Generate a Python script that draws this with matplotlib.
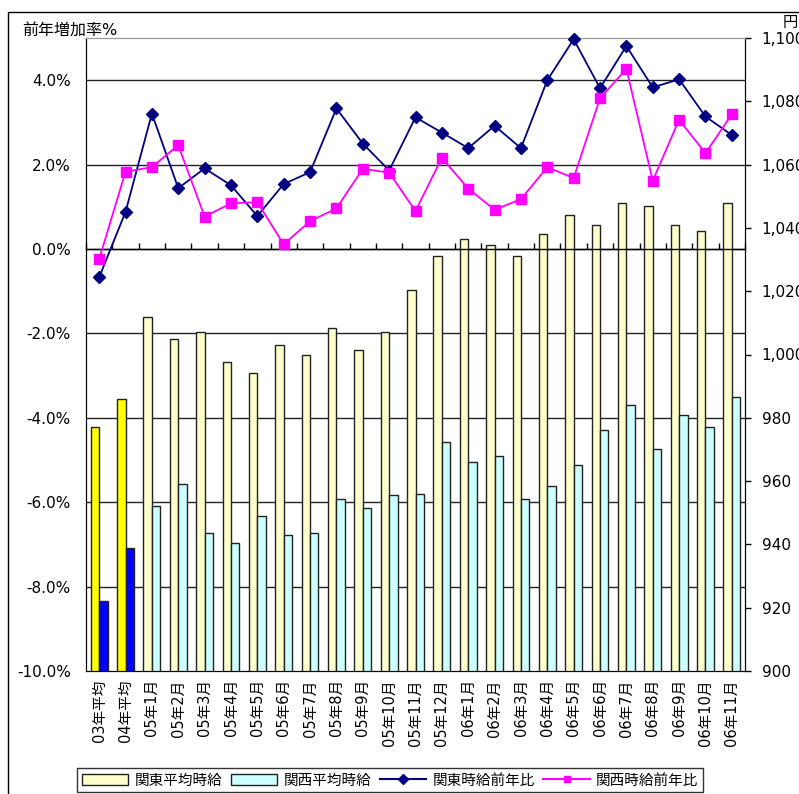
import numpy as np
import matplotlib
matplotlib.use("Agg")
import matplotlib.pyplot as plt
from matplotlib.patches import Patch, Rectangle
from matplotlib.lines import Line2D
from matplotlib.ticker import FuncFormatter

plt.rcParams['font.family'] = ['DejaVu Sans', 'Noto Sans CJK JP']

# categories
labels = ["03年平均", "04年平均"] + ["05年%d月" % m for m in range(1, 13)] + ["06年%d月" % m for m in range(1, 12)]

# average hourly wage (yen), right axis
kanto_wage = [977, 986, 1012, 1005, 1007, 997.5, 994, 1003, 1000, 1008.5, 1001.5, 1007,
              1020.5, 1031, 1036.5, 1034.5, 1031, 1038, 1044, 1041, 1048, 1047, 1041, 1039, 1048]
kansai_wage = [922, 939, 952, 959, 943.5, 940.5, 949, 943, 943.5, 954.5, 951.5, 955.5,
               956, 972.5, 966, 968, 954.5, 958.5, 965, 976, 984, 970, 981, 977, 986.5]

# year-on-year change (%), left axis
kanto_yoy = [-0.67, 0.88, 3.21, 1.44, 1.91, 1.51, 0.78, 1.54, 1.82, 3.33, 2.50, 1.86,
             3.12, 2.76, 2.39, 2.92, 2.39, 4.00, 4.97, 3.81, 4.81, 3.83, 4.02, 3.14, 2.70]
kansai_yoy = [-0.24, 1.83, 1.94, 2.46, 0.77, 1.08, 1.11, 0.11, 0.66, 0.96, 1.90, 1.81,
              0.90, 2.16, 1.43, 0.93, 1.18, 1.94, 1.68, 3.57, 4.27, 1.62, 3.06, 2.27, 3.19]

W, H = 799, 794
fig = plt.figure(figsize=(W / 100, H / 100), dpi=100)
fig.patches.append(Rectangle((8 / W, -0.1), 1.0, (H - 12) / H + 0.1, transform=fig.transFigure,
                             fill=False, ec="black", lw=1.0))

axb = fig.add_axes([86 / W, 1 - 671 / H, (745 - 86) / W, (671 - 38) / H])
x = np.arange(len(labels))
bw = 0.32
c1 = ["#FFFF00", "#FFFF00"] + ["#FFFFCC"] * (len(labels) - 2)
c2 = ["#0000FF", "#0000FF"] + ["#CCFFFF"] * (len(labels) - 2)

ylo, yhi = -10, 5
wlo, whi = 900, 1100
# gridlines following the percent axis, drawn behind the bars
pct_ticks = np.arange(-10, 5, 2)
grid_w = wlo + (pct_ticks - ylo) / (yhi - ylo) * (whi - wlo)
for g in grid_w[1:]:
    axb.axhline(g, color="#222222", lw=1.0, zorder=0)

axb.bar(x - bw / 2, kanto_wage, bw, color=c1, edgecolor="#222222", lw=1.0, zorder=2)
axb.bar(x + bw / 2, kansai_wage, bw, color=c2, edgecolor="#222222", lw=1.0, zorder=2)
axb.set_xlim(-0.5, len(labels) - 0.5)
axb.set_ylim(wlo, whi)
axb.set_xticks(x)
axb.set_xticklabels(labels, rotation=90, fontsize=10.5, va="top")
axb.tick_params(axis="x", length=0, pad=6)
axb.spines["top"].set_color("#999999")

axl = axb.twinx()
axl.yaxis.tick_left()
axl.yaxis.set_label_position("left")
axb.yaxis.tick_right()
axb.yaxis.set_label_position("right")
axb.set_yticks(np.arange(900, 1101, 20))
axb.yaxis.set_major_formatter(FuncFormatter(lambda v, p: "{:,.0f}".format(v)))
axb.tick_params(axis="y", direction="out", length=4, width=1, labelsize=11, pad=8)

axl.plot(x, kanto_yoy, color="#000080", lw=1.3, marker="D", ms=6.5, zorder=3, clip_on=False)
axl.plot(x, kansai_yoy, color="#FF00FF", lw=1.3, marker="s", ms=7, zorder=3, clip_on=False)
axl.set_ylim(ylo, yhi)
axl.set_yticks(np.arange(-10, 5, 2))
axl.yaxis.set_major_formatter(FuncFormatter(lambda v, p: "%.1f%%" % v))
axl.tick_params(axis="y", length=0, labelsize=11, pad=11)
axl.spines["top"].set_color("#999999")

# category axis crossing at 0%
sec = axl.secondary_xaxis((0 - ylo) / (yhi - ylo))
sec.set_xticks(np.arange(-0.5, len(labels), 1.0))
sec.tick_params(length=4, width=1, labeltop=False, labelbottom=False, direction="out")
sec.spines["top"].set_linewidth(1.0)

fig.text(22 / W, 1 - 30 / H, "前年増加率%", fontsize=11.5, va="center", ha="left")
fig.text(783 / W, 1 - 22 / H, "円", fontsize=11, va="center", ha="left")

handles = [Patch(facecolor="#FFFFCC", edgecolor="#222222"),
           Patch(facecolor="#CCFFFF", edgecolor="#222222"),
           Line2D([], [], color="#000080", marker="D", ms=5),
           Line2D([], [], color="#FF00FF", marker="s", ms=5)]
names = ["関東平均時給", "関西平均時給", "関東時給前年比", "関西時給前年比"]
leg = fig.legend(handles, names, ncol=4, loc="center", bbox_to_anchor=(390 / W, 1 - 780 / H),
                 fontsize=10.5, frameon=True, fancybox=False, edgecolor="black",
                 handlelength=3.2, handletextpad=0.4, columnspacing=0.6, borderpad=0.3,
                 handleheight=0.7)
leg.get_frame().set_linewidth(1.0)

fig.savefig("out.png", dpi=100)
